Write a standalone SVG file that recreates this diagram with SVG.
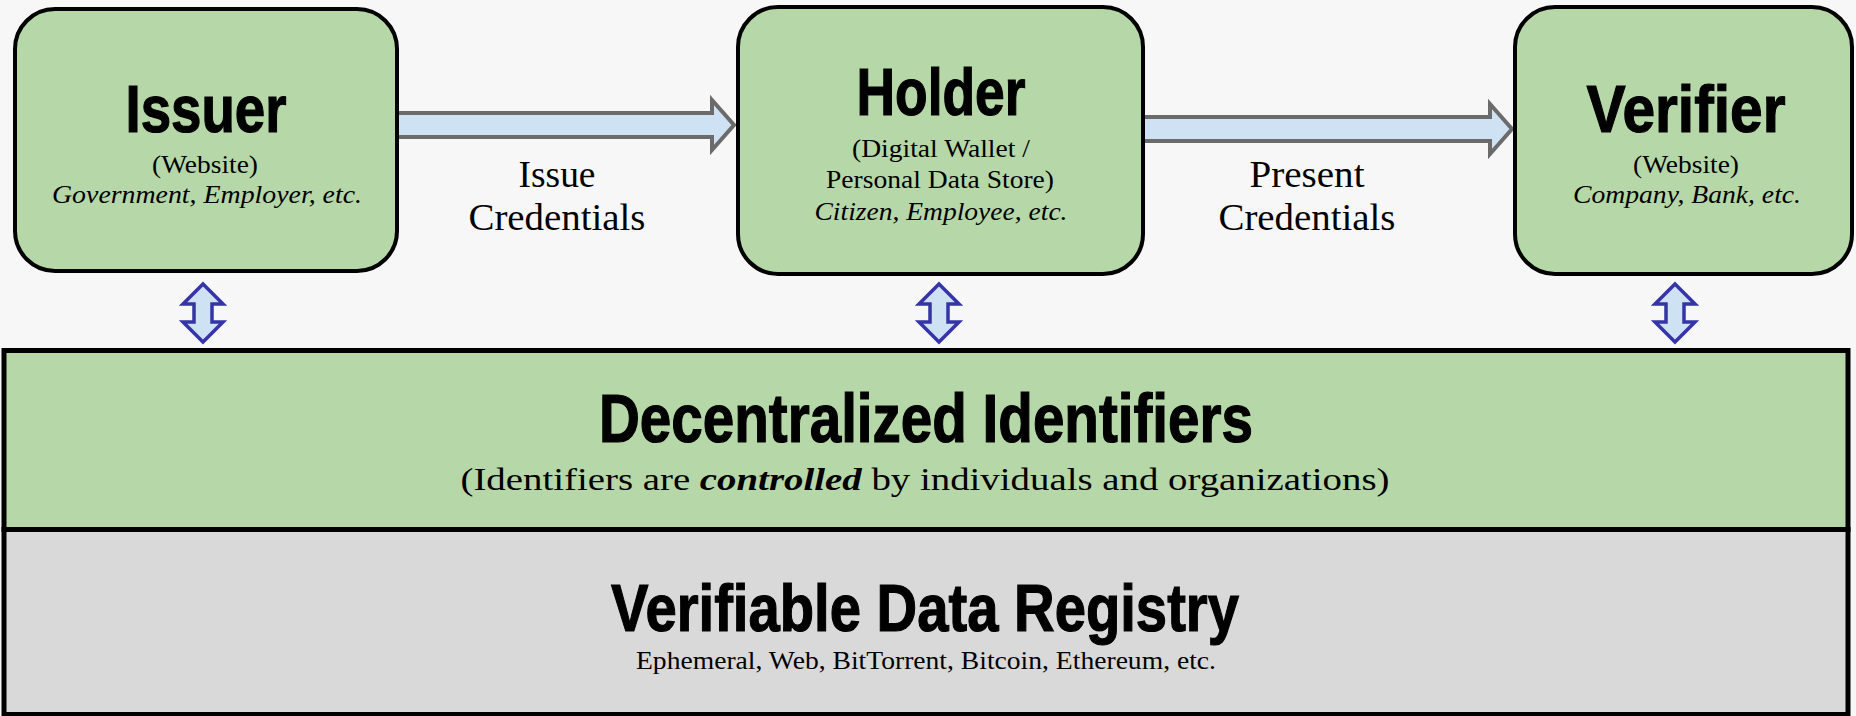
<svg xmlns="http://www.w3.org/2000/svg" width="1856" height="716" viewBox="0 0 1856 716">
<style>
.bg{fill:#f7f7f7}
.node{fill:#b6d7a8;stroke:#000;stroke-width:4}
.band{stroke:#000;stroke-width:5}
.flow{fill:#cfe2f3;stroke:#6b6b6b;stroke-width:4;stroke-linejoin:miter}
.dbl{fill:#cfe2f3;stroke:#3535a8;stroke-width:3.5;stroke-linejoin:miter}
.h{font-family:"Liberation Sans",Arial,sans-serif;font-weight:bold;fill:#000;stroke:#000;stroke-width:1.2;text-anchor:middle}
.s{font-family:"Liberation Serif","Times New Roman",serif;fill:#000;text-anchor:middle}
.i{font-style:italic}
</style>
<rect class="bg" x="0" y="0" width="1856" height="716"/>
<g id="connectors">
  <path class="flow" d="M395 113 L712 113 L712 100 L734 125 L712 150 L712 137 L395 137 Z"/>
  <path class="flow" d="M1141 117 L1490 117 L1490 104 L1512 129 L1490 154 L1490 141 L1141 141 Z"/>
  <path class="dbl" d="M203 284 L223 304 L212 304 L212 322 L223 322 L203 342 L183 322 L194 322 L194 304 L183 304 Z"/>
  <path class="dbl" d="M939 284 L959 304 L948 304 L948 322 L959 322 L939 342 L919 322 L930 322 L930 304 L919 304 Z"/>
  <path class="dbl" d="M1675 284 L1695 304 L1684 304 L1684 322 L1695 322 L1675 342 L1655 322 L1666 322 L1666 304 L1655 304 Z"/>
  <text class="s" x="557" y="187" font-size="37" textLength="77" lengthAdjust="spacingAndGlyphs">Issue</text>
  <text class="s" x="557" y="230" font-size="37" textLength="177" lengthAdjust="spacingAndGlyphs">Credentials</text>
  <text class="s" x="1307" y="187" font-size="37" textLength="115" lengthAdjust="spacingAndGlyphs">Present</text>
  <text class="s" x="1307" y="230" font-size="37" textLength="177" lengthAdjust="spacingAndGlyphs">Credentials</text>
</g>
<g id="issuer">
  <rect class="node" x="15" y="9" width="382" height="262" rx="40"/>
  <text class="h" x="206" y="132" font-size="66" textLength="161" lengthAdjust="spacingAndGlyphs">Issuer</text>
  <text class="s" x="205" y="173" font-size="25" textLength="106" lengthAdjust="spacingAndGlyphs">(Website)</text>
  <text class="s i" x="207" y="203" font-size="25" textLength="310" lengthAdjust="spacingAndGlyphs">Government, Employer, etc.</text>
</g>
<g id="holder">
  <rect class="node" x="738" y="7" width="405" height="267" rx="40"/>
  <text class="h" x="941" y="115" font-size="66" textLength="169" lengthAdjust="spacingAndGlyphs">Holder</text>
  <text class="s" x="941" y="157" font-size="26" textLength="178" lengthAdjust="spacingAndGlyphs">(Digital Wallet /</text>
  <text class="s" x="940" y="188" font-size="26" textLength="228" lengthAdjust="spacingAndGlyphs">Personal Data Store)</text>
  <text class="s i" x="941" y="220" font-size="25" textLength="253" lengthAdjust="spacingAndGlyphs">Citizen, Employee, etc.</text>
</g>
<g id="verifier">
  <rect class="node" x="1515" y="7" width="337" height="267" rx="40"/>
  <text class="h" x="1686" y="132" font-size="66" textLength="199" lengthAdjust="spacingAndGlyphs">Verifier</text>
  <text class="s" x="1686" y="173" font-size="25" textLength="106" lengthAdjust="spacingAndGlyphs">(Website)</text>
  <text class="s i" x="1687" y="203" font-size="25" textLength="228" lengthAdjust="spacingAndGlyphs">Company, Bank, etc.</text>
</g>
<g id="did">
  <rect class="band" x="4" y="350.5" width="1844" height="179" fill="#b6d7a8"/>
  <text class="h" x="926" y="442" font-size="68" textLength="654" lengthAdjust="spacingAndGlyphs">Decentralized Identifiers</text>
  <text class="s" x="925" y="490" font-size="32" textLength="929" lengthAdjust="spacingAndGlyphs">(Identifiers are <tspan font-style="italic" font-weight="bold">controlled</tspan> by individuals and organizations)</text>
</g>
<g id="registry">
  <rect class="band" x="4" y="529.5" width="1844" height="185" fill="#d9d9d9"/>
  <text class="h" x="925" y="631" font-size="67" textLength="628" lengthAdjust="spacingAndGlyphs">Verifiable Data Registry</text>
  <text class="s" x="926" y="669" font-size="25" textLength="580" lengthAdjust="spacingAndGlyphs">Ephemeral, Web, BitTorrent, Bitcoin, Ethereum, etc.</text>
</g>
</svg>
